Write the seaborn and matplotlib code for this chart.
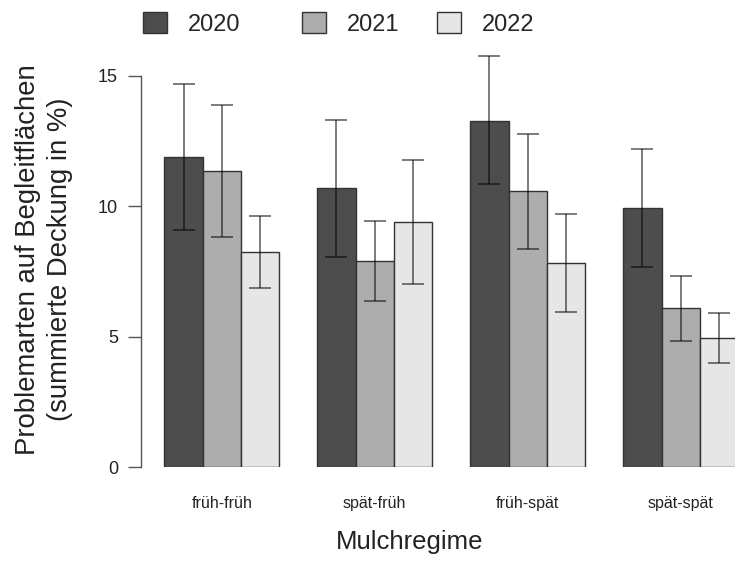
import matplotlib
matplotlib.use("Agg")
import matplotlib.pyplot as plt
import matplotlib.patches as mpatches
import numpy as np
import pandas as pd
import seaborn as sns

# values
regimes = ["früh-früh", "spät-früh", "früh-spät", "spät-spät"]
years = ["2020", "2021", "2022"]

mean_2020 = [11.88, 10.69, 13.28, 9.92]
mean_2021 = [11.35, 7.90, 10.60, 6.12]
mean_2022 = [8.25, 9.40, 7.83, 4.94]

low_2020 = [9.10, 8.07, 10.85, 7.67]
low_2021 = [8.82, 6.37, 8.38, 4.85]
low_2022 = [6.88, 7.03, 5.96, 3.98]

high_2020 = [14.70, 13.31, 15.76, 12.18]
high_2021 = [13.89, 9.43, 12.77, 7.33]
high_2022 = [9.62, 11.79, 9.72, 5.90]

colors = {"2020": "#4d4d4d", "2021": "#adadad", "2022": "#e6e6e6"}


def build_frame():
    means = [mean_2020, mean_2021, mean_2022]
    lows = [low_2020, low_2021, low_2022]
    highs = [high_2020, high_2021, high_2022]
    rows = []
    for y, m, lo, hi in zip(years, means, lows, highs):
        for r, mv, lv, hv in zip(regimes, m, lo, hi):
            rows.append({"regime": r, "year": y, "value": mv, "low": lv, "high": hv})
    return pd.DataFrame(rows)


def add_errorbars(ax, df):
    for year, cont in zip(years, ax.containers):
        sub = df[df["year"] == year]
        for bar, (_, row) in zip(cont, sub.iterrows()):
            x = bar.get_x() + bar.get_width() / 2
            ax.errorbar(x, row["value"],
                        yerr=[[row["value"] - row["low"]], [row["high"] - row["value"]]],
                        fmt="none", ecolor="black", alpha=0.65,
                        elinewidth=1.1, capsize=8, capthick=1.1, zorder=5)


if __name__ == "__main__":
    sns.set_theme(style="white")
    plt.rcParams["font.family"] = ["Liberation Sans", "DejaVu Sans"]

    df = build_frame()

    fig = plt.figure(figsize=(7.35, 5.61), dpi=100)
    ax = fig.add_axes([0.1918, 0.167, 0.808, 0.7677])

    sns.barplot(data=df, x="regime", y="value", hue="year", palette=colors,
                width=0.75, saturation=1, errorbar=None, legend=False,
                edgecolor="#333333", linewidth=1.0, ax=ax)
    add_errorbars(ax, df)

    ax.set_xlim(-0.528, 3.354)
    ax.set_ylim(0, 16.5)
    ax.set_yticks([0, 5, 10, 15])
    for s in ["top", "right", "bottom"]:
        ax.spines[s].set_visible(False)
    ax.spines["left"].set_bounds(0, 15)
    ax.spines["left"].set_color("#555555")
    ax.spines["left"].set_linewidth(1.0)

    ax.tick_params(axis="y", length=9.5, width=1.0, color="#555555", pad=7,
                   labelsize=13, labelcolor="#222222", left=True)
    ax.tick_params(axis="x", length=0, pad=21, labelsize=11.5, labelcolor="#222222")

    ax.set_xlabel("Mulchregime", fontsize=18.5, color="#222222")
    ax.xaxis.set_label_coords(0.453, -0.145)
    ax.set_ylabel("Problemarten auf Begleitflächen\n(summierte Deckung in %)",
                  fontsize=19.8, color="#222222", va="center", linespacing=1.32)
    ax.yaxis.set_label_coords(-0.163, 0.482)

    # legend entries sit unevenly spaced at the top, as in the reference
    legend_x = [143, 302, 437]
    for year, lx in zip(years, legend_x):
        handle = mpatches.Patch(facecolor=colors[year], edgecolor="#333333", linewidth=1.0)
        fig.legend(handles=[handle], labels=[year], loc="center left",
                   bbox_to_anchor=(lx / 735, 1 - 24 / 561), frameon=False,
                   fontsize=17, handlelength=1.0, handleheight=1.0,
                   handletextpad=0.9, borderpad=0, borderaxespad=0)

    fig.savefig("out.png", dpi=100)
